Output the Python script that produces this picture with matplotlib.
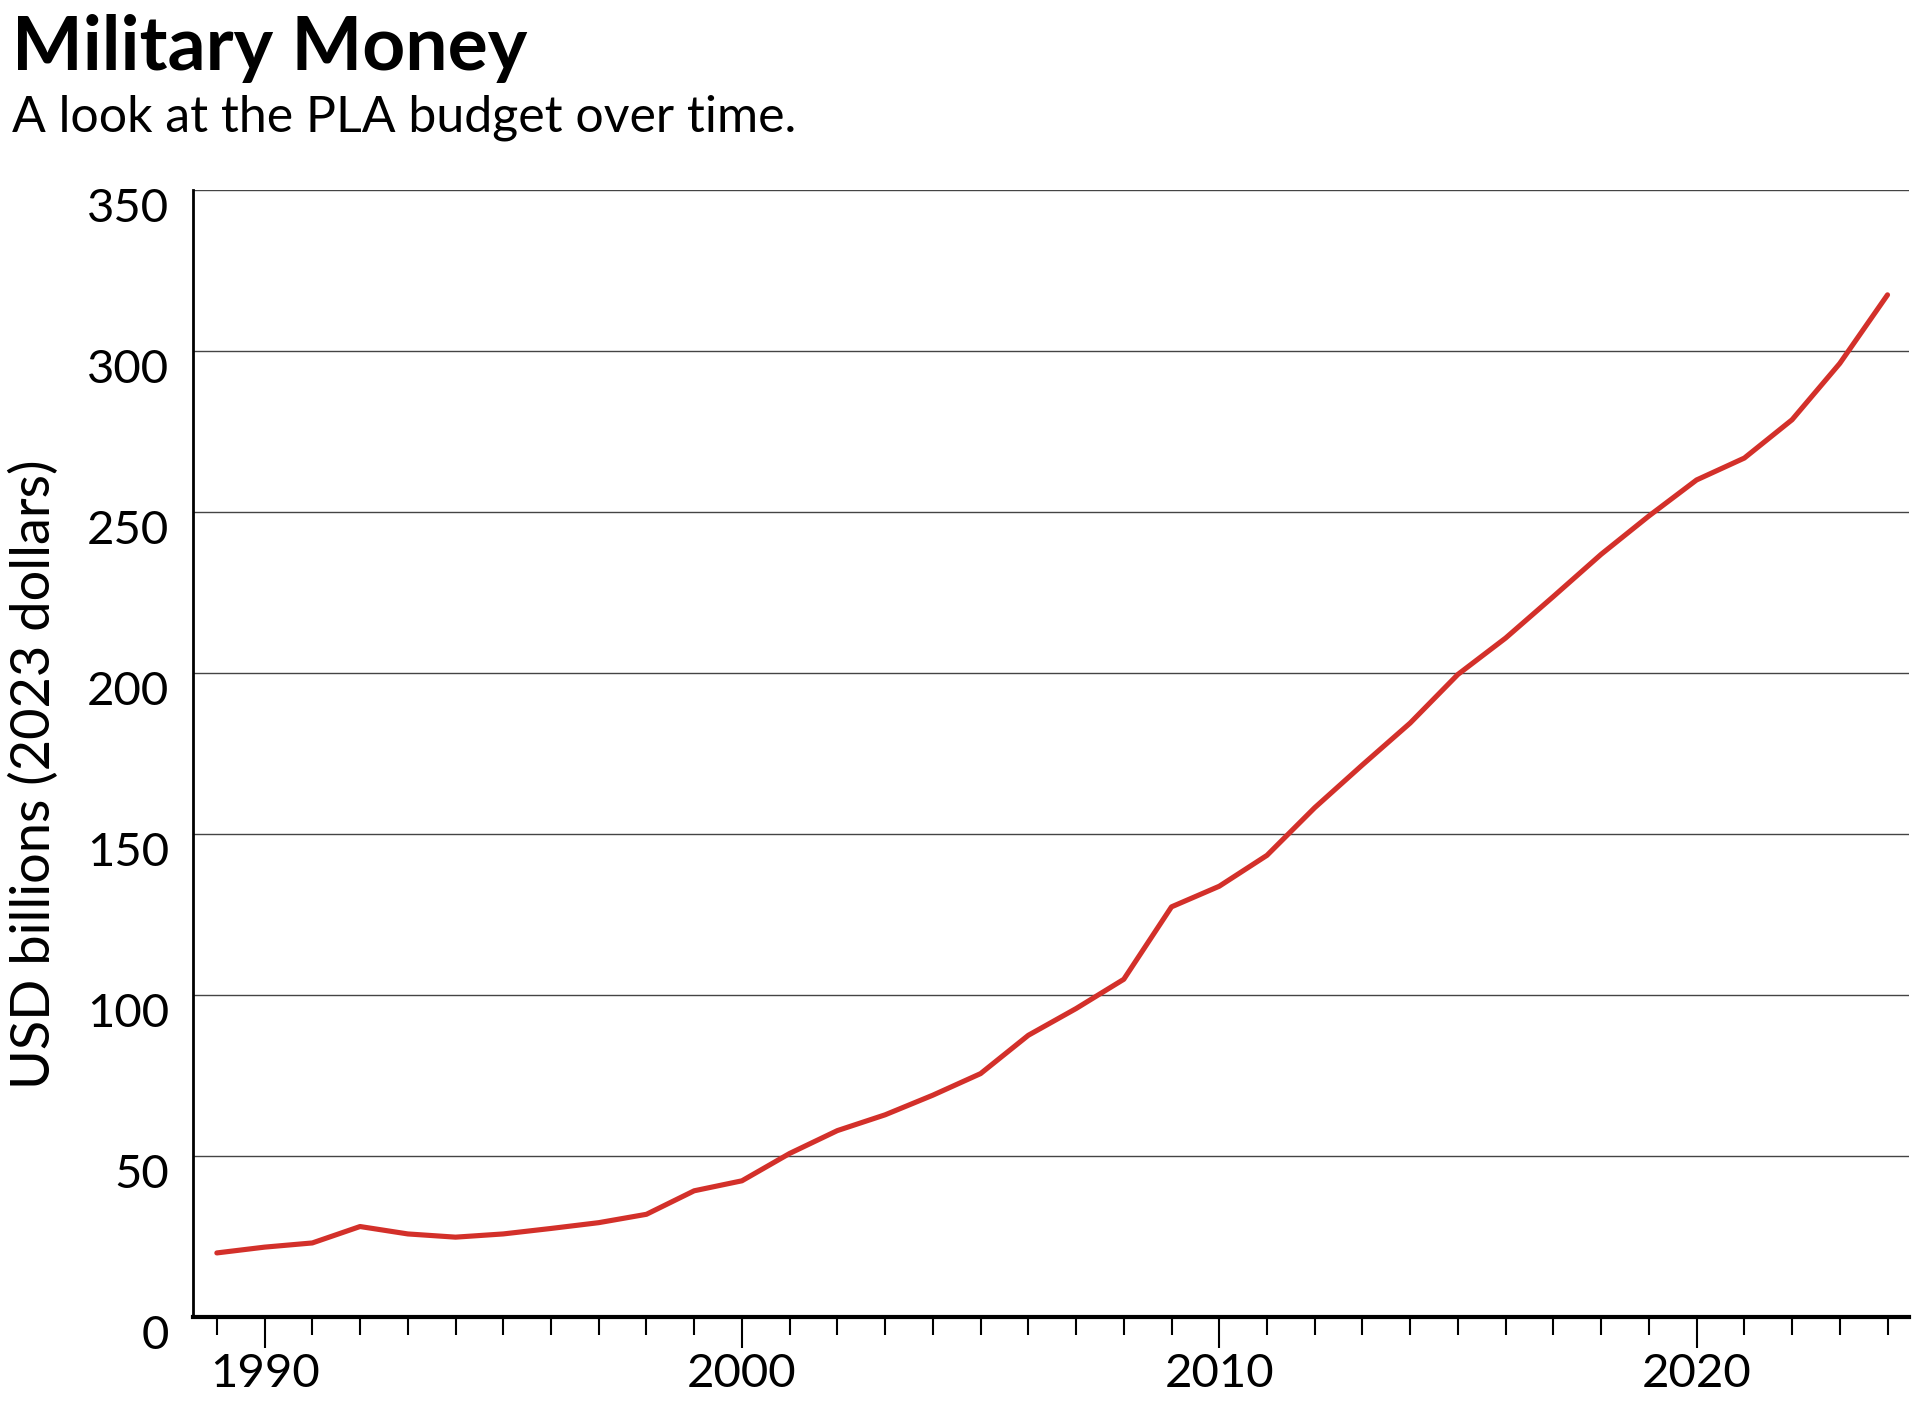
import numpy as np
import matplotlib.pyplot as plt
import matplotlib.transforms as mtransforms
from matplotlib.ticker import MultipleLocator

plt.rcParams['font.family'] = ['Lato', 'DejaVu Sans']

years = np.arange(1989, 2025)
budget = [19.9, 21.7, 23.0, 28.1, 25.8, 24.8, 25.8, 27.5, 29.3, 31.9,
          39.2, 42.3, 50.8, 57.9, 62.8, 68.9, 75.6, 87.5, 95.8, 104.9,
          127.4, 133.8, 143.4, 158.2, 171.5, 184.5, 199.6, 210.9, 223.8, 236.9,
          248.8, 260.0, 266.8, 278.7, 296.2, 317.5]
y_ticks = [0, 50, 100, 150, 200, 250, 300, 350]
x_ticks = [1990, 2000, 2010, 2020]

fig = plt.figure(figsize=(19.24, 14.09), dpi=100)
ax = fig.add_axes([0.1003, 0.0653, 0.8919, 0.7997])

ax.plot(years, budget, color='#d3302a', linewidth=3.7, solid_capstyle='round', zorder=3)

ax.set_xlim(1988.5, 2024.45)
ax.set_ylim(0, 350)
ax.set_yticks(y_ticks)
ax.set_xticks(x_ticks)
ax.xaxis.set_minor_locator(MultipleLocator(1))

ax.grid(axis='y', color='#444444', linewidth=1.0)
ax.set_axisbelow(True)

for s in ['top', 'right']:
    ax.spines[s].set_visible(False)
ax.spines['left'].set_linewidth(2)
ax.spines['bottom'].set_linewidth(3)

ax.tick_params(axis='y', length=0, pad=17, labelsize=34)
ax.tick_params(axis='x', which='major', length=22, width=1.5, pad=4, labelsize=34)
ax.tick_params(axis='x', which='minor', length=13, width=1.5)

# y tick labels sit a bit below their gridlines
offset = mtransforms.ScaledTranslation(0, -15 / 100, fig.dpi_scale_trans)
for lab in ax.get_yticklabels():
    lab.set_transform(lab.get_transform() + offset)

ax.set_ylabel('USD billions (2023 dollars)', fontsize=39)
ax.yaxis.set_label_coords(-0.078, 0.482)

fig.text(0.006, 0.950, 'Military Money', fontsize=54, fontweight='bold', ha='left', va='baseline')
fig.text(0.006, 0.907, 'A look at the PLA budget over time.', fontsize=36,
         ha='left', va='baseline')

fig.savefig('out.png', dpi=100)
